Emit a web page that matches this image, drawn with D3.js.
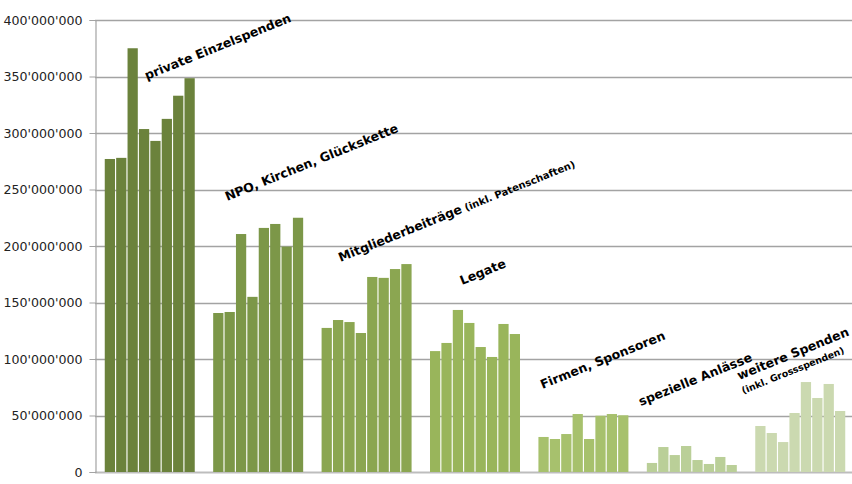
<!DOCTYPE html>
<html>
<head>
<meta charset="utf-8">
<script src="https://cdn.jsdelivr.net/npm/d3@7/dist/d3.min.js"></script>
<style>
  html, body { margin: 0; padding: 0; background: #fff; }
  svg { display: block; }
</style>
</head>
<body>
<svg id="chart" width="852" height="484"></svg>
<script>
// Spendenquellen, jeweils acht Jahre pro Kategorie (CHF)
const categories = [
  "private Einzelspenden",
  "NPO, Kirchen, Glückskette",
  "Mitgliederbeiträge",
  "Legate",
  "Firmen, Sponsoren",
  "spezielle Anlässe",
  "weitere Spenden"
];
const subLabels = ["", "", "(inkl. Patenschaften)", "", "", "", "(inkl. Grossspenden)"];
const years = ["J1", "J2", "J3", "J4", "J5", "J6", "J7", "J8"];

const privateEinzelspenden = [277e6, 278e6, 375e6, 303.5e6, 293e6, 312.5e6, 333e6, 348.5e6];
const npoKirchen          = [140.7e6, 141.6e6, 210.6e6, 155e6, 216e6, 219.5e6, 199.5e6, 225e6];
const mitgliederbeitraege = [127.5e6, 134.5e6, 132.7e6, 123e6, 172.6e6, 171.8e6, 179.6e6, 184e6];
const legate              = [107e6, 114.2e6, 143.4e6, 131.9e6, 110.6e6, 101.8e6, 131e6, 122.1e6];
const firmenSponsoren     = [31e6, 29.2e6, 33.6e6, 51.3e6, 29.2e6, 49.8e6, 51.3e6, 50.2e6];
const spezielleAnlaesse   = [8e6, 22.1e6, 15e6, 23e6, 10.6e6, 7.1e6, 13.3e6, 6.2e6];
const weitereSpenden      = [40.7e6, 34.5e6, 26.5e6, 52.2e6, 79.6e6, 65.5e6, 77.9e6, 54e6];

const seriesValues = [
  privateEinzelspenden, npoKirchen, mitgliederbeitraege, legate,
  firmenSponsoren, spezielleAnlaesse, weitereSpenden
];

const yTicks = [0, 50e6, 100e6, 150e6, 200e6, 250e6, 300e6, 350e6, 400e6];

const groupColors = ["#6b823c", "#7c9748", "#8ba651", "#99b55b", "#a7c16d", "#bacf98", "#cbd9b0"];

// Label anchor (offset from group start, baseline y, caption size) for the rotated captions
const labelAnchors = [
  { dx: 42, y: 80 },
  { dx: 14, y: 201 },
  { dx: 19, y: 262 },
  { dx: 32, y: 285 },
  { dx: 4, y: 389 },
  { dx: -6, y: 406 },
  { dx: -16, y: 380 }
];

const svg = d3.select("#chart");
const plotLeft = 95, plotRight = 855, plotTop = 20, plotBottom = 472;

const x0 = d3.scaleBand().domain(categories).range([plotLeft, plotRight])
  .paddingInner(0.17).paddingOuter(0.09);
const x1 = d3.scaleBand().domain(years).range([0, x0.bandwidth()])
  .paddingInner(0.1).paddingOuter(0);
const y = d3.scaleLinear().domain([0, 400e6]).range([plotBottom, plotTop]);

const fmt = d3.formatLocale({ decimal: ".", thousands: "'", grouping: [3], currency: ["", ""] }).format(",");

// Horizontal gridlines
svg.append("g")
  .selectAll("line")
  .data(yTicks)
  .join("line")
  .attr("x1", plotLeft).attr("x2", 852)
  .attr("y1", d => Math.round(y(d)) + 0.5).attr("y2", d => Math.round(y(d)) + 0.5)
  .attr("stroke", d => d === 0 ? "#bdbdbd" : "#a3a3a3")
  .attr("stroke-width", d => d === 0 ? 2 : 1.4);

// Y axis
const yAxis = svg.append("g")
  .attr("transform", `translate(${plotLeft + 0.5},0)`)
  .call(d3.axisLeft(y).tickValues(yTicks).tickFormat(fmt).tickSize(6).tickPadding(7));
yAxis.select(".domain").attr("stroke", "#a3a3a3").attr("stroke-width", 1.2);
yAxis.selectAll(".tick line").attr("stroke", "#a3a3a3");
yAxis.selectAll(".tick text")
  .attr("fill", "#222")
  .style("font-family", "'DejaVu Sans', Verdana, sans-serif")
  .style("font-size", "12.6px");

// Bars
const groups = svg.append("g")
  .selectAll("g")
  .data(categories)
  .join("g")
  .attr("transform", d => `translate(${x0(d)},0)`);

groups.selectAll("rect")
  .data((d, i) => seriesValues[i].map((v, j) => ({ v, year: years[j], g: i })))
  .join("rect")
  .attr("x", d => x1(d.year))
  .attr("width", x1.bandwidth())
  .attr("y", d => y(d.v))
  .attr("height", d => y(0) - y(d.v))
  .attr("fill", d => groupColors[d.g]);

// Rotated category captions
const labels = svg.append("g")
  .style("font-family", "'DejaVu Sans', Verdana, sans-serif")
  .style("font-weight", "bold")
  .attr("fill", "#000");

categories.forEach((c, i) => {
  const a = labelAnchors[i];
  const lx = x0(c) + a.dx;
  const t = labels.append("text")
    .attr("transform", `translate(${lx},${a.y}) rotate(-22)`)
    .style("font-size", "12.5px");
  t.append("tspan").text(c);
  if (subLabels[i] && i !== categories.length - 1) {
    t.append("tspan").style("font-size", "10px").text(" " + subLabels[i]);
  }
  if (subLabels[i] && i === categories.length - 1) {
    // second caption line, kept inside the right edge
    labels.append("text")
      .attr("transform", `translate(${lx + 4},${a.y + 14}) rotate(-22)`)
      .style("font-size", "9.4px")
      .text(subLabels[i]);
  }
});
</script>
</body>
</html>
